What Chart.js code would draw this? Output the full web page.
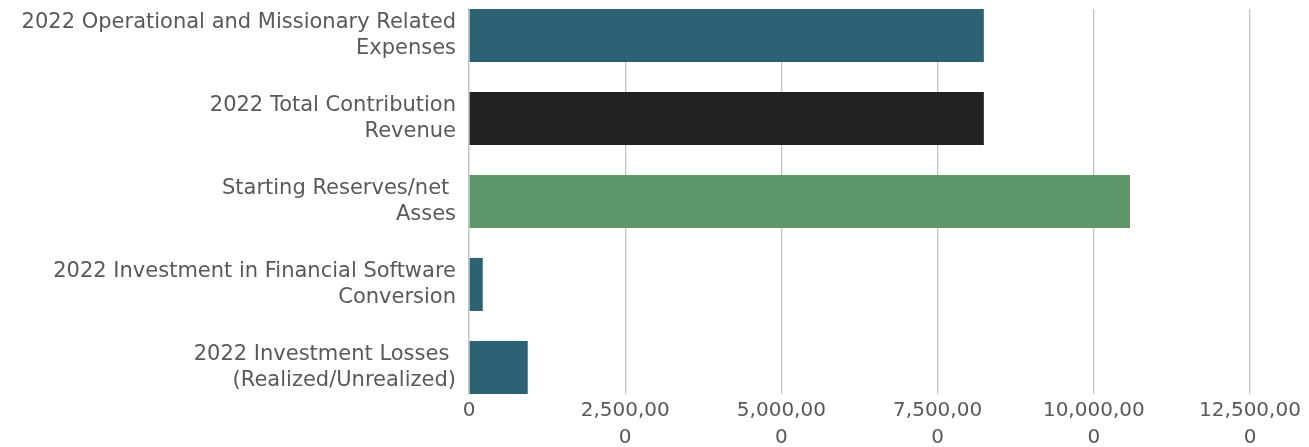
<!DOCTYPE html>
<html>
<head>
<meta charset="utf-8">
<script src="https://cdn.jsdelivr.net/npm/chart.js@4"></script>
<style>
  html, body { margin: 0; padding: 0; background: #fff; }
  #wrap { width: 1309px; height: 447px; position: relative; }
</style>
</head>
<body>
<div id="wrap"><canvas id="barChart"></canvas></div>
<script>
const categories = [
    ['2022 Operational and Missionary Related', 'Expenses'],
    ['2022 Total Contribution', 'Revenue'],
    ['Starting Reserves/net ', 'Asses'],
    ['2022 Investment in Financial Software', 'Conversion'],
    ['2022 Investment Losses ', '(Realized/Unrealized)']
];
const amounts = [8240000, 8240000, 10580000, 220000, 940000];
const barColors = ['#2d6275', '#222120', '#5e986a', '#2d6275', '#2d6275'];
const xTicks = [0, 2500000, 5000000, 7500000, 10000000, 12500000];
const xTickLabels = ['0', ['2,500,00', '0'], ['5,000,00', '0'], ['7,500,00', '0'], ['10,000,00', '0'], ['12,500,00', '0']];

const textColor = '#595959';
const fontFamily = '"DejaVu Sans", sans-serif';

// bars sit on a numeric index axis so the band can be trimmed to the bar edges
const points = amounts.map((v, i) => ({ x: v, y: i }));

new Chart(document.getElementById('barChart'), {
    type: 'bar',
    data: {
        datasets: [{
            data: points,
            backgroundColor: barColors,
            borderWidth: 0,
            barPercentage: 0.64,
            categoryPercentage: 1
        }]
    },
    options: {
        indexAxis: 'y',
        responsive: true,
        maintainAspectRatio: false,
        animation: false,
        layout: { padding: { top: 9, right: 59, left: 0, bottom: 0 } },
        plugins: {
            legend: { display: false },
            tooltip: { enabled: false }
        },
        scales: {
            x: {
                type: 'linear',
                min: 0,
                max: 12500000,
                afterBuildTicks: s => { s.ticks = xTicks.map(v => ({ value: v })); },
                afterFit: s => { s.height = 53; },
                grid: { color: '#c4c4c4', lineWidth: 1.3, drawTicks: false },
                border: { display: false },
                ticks: {
                    padding: 3,
                    maxRotation: 0,
                    color: textColor,
                    font: { family: fontFamily, size: 20, lineHeight: 1.35 },
                    callback: (v, i) => xTickLabels[i]
                }
            },
            y: {
                type: 'linear',
                offset: false,
                reverse: true,
                min: -0.32,
                max: 4.32,
                afterBuildTicks: s => { s.ticks = categories.map((c, i) => ({ value: i })); },
                afterFit: s => { s.width = 469; s.paddingTop = 0; s.paddingBottom = 0; },
                grid: { display: false, offset: false },
                border: { display: true, color: '#c4c4c4', width: 1.3 },
                ticks: {
                    padding: 5,
                    color: textColor,
                    font: { family: fontFamily, size: 21, lineHeight: 1.25 },
                    callback: v => categories[v]
                }
            }
        }
    }
});
</script>
</body>
</html>
